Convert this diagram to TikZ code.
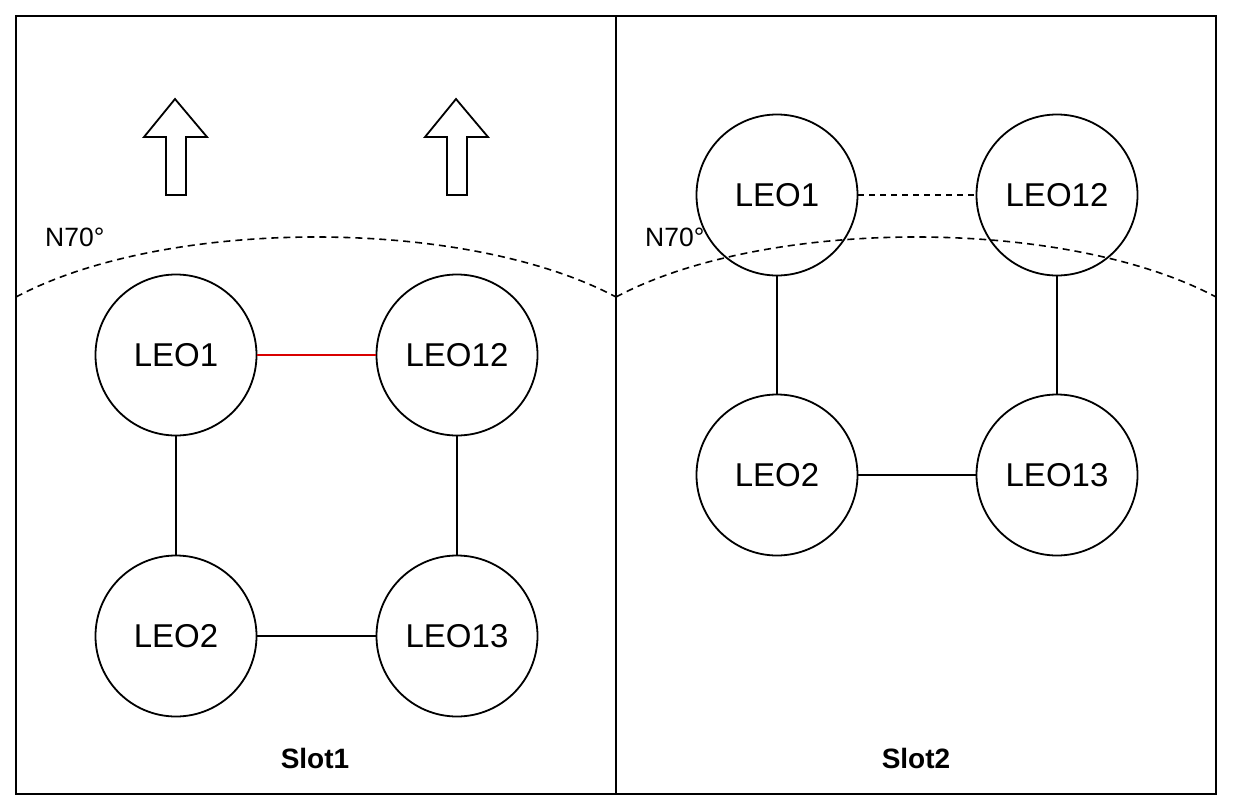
\documentclass[tikz,border=0pt]{standalone}
\usepackage{fontspec}
\setmainfont{Liberation Sans}
\begin{document}
\begin{tikzpicture}[x=1pt,y=-1pt,
  leo/.style={circle,draw,line width=1.8pt,minimum size=161pt,inner sep=0pt,font=\fontsize{33}{36}\selectfont},
  link/.style={line width=1.6pt},
  horizon/.style={line width=1.6pt,dash pattern=on 7pt off 5pt},
  frame/.style={line width=2pt},
  uparrow/.style={draw,line width=1.8pt,fill=white},
  lbl/.style={font=\fontsize{26.5}{30}\selectfont,inner sep=0pt,anchor=base west},
  slotlbl/.style={font=\bfseries\fontsize{28}{32}\selectfont,inner sep=0pt,anchor=base}]
\useasboundingbox (0,0) rectangle (1236,811);
% frames
\draw[frame] (16,16) rectangle (616,794);
\draw[frame] (616,16) rectangle (1216,794);
% arrows
\draw[uparrow] (175,99) -- (207,137) -- (186,137) -- (186,195) -- (166,195) -- (166,137) -- (144,137) -- cycle;
\draw[uparrow] (456,99) -- (488,137) -- (467,137) -- (467,195) -- (447,195) -- (447,137) -- (425,137) -- cycle;
% horizons
\node[lbl] (n1) at (45,246) {N70°};
\node[lbl] (n2) at (645,246) {N70°};
\coordinate (h1a) at (16,297);
\coordinate (h1b) at (616,297);
\coordinate (h2a) at (616,297);
\coordinate (h2b) at (1216,297);
\draw[horizon] (h1a) .. controls (166,217) and (466,217) .. (h1b);
\draw[horizon] (h2a) .. controls (766,217) and (1066,217) .. (h2b);
% slot 1
\node[leo] (a1) at (176,355) {LEO1};
\node[leo] (a12) at (457,355) {LEO12};
\node[leo] (a2) at (176,636) {LEO2};
\node[leo] (a13) at (457,636) {LEO13};
\draw[link,red!85!black] (a1) -- (a12);
\draw[link] (a1) -- (a2);
\draw[link] (a12) -- (a13);
\draw[link] (a2) -- (a13);
% slot 2
\node[leo] (b1) at (777,195) {LEO1};
\node[leo] (b12) at (1057,195) {LEO12};
\node[leo] (b2) at (777,475) {LEO2};
\node[leo] (b13) at (1057,475) {LEO13};
\draw[link,dash pattern=on 6pt off 5pt] (b1) -- (b12);
\draw[link] (b1) -- (b2);
\draw[link] (b12) -- (b13);
\draw[link] (b2) -- (b13);
% slot labels
\node[slotlbl] (s1) at (315,768) {Slot1};
\node[slotlbl] (s2) at (916,768) {Slot2};
\end{tikzpicture}
\end{document}
